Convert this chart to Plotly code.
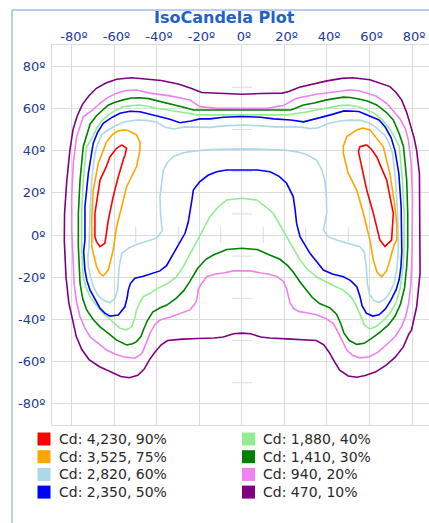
import plotly.graph_objects as go

# ---------------- data ----------------
tick_vals = [-80, -60, -40, -20, 0, 20, 40, 60, 80]
tick_text = [f"{v}º" for v in tick_vals]
minor_vals = [-70, -50, -30, -10, 10, 30, 50, 70]

candela = [4230, 3525, 2820, 2350, 1880, 1410, 940, 470]
percent = [90, 75, 60, 50, 40, 30, 20, 10]
colors = ["red", "orange", "lightblue", "blue", "lightgreen", "green", "violet", "purple"]

# isocandela lines, (horizontal deg, vertical deg)
iso_90 = [(-56.6, 42.7), (-54.3, 41.1), (-55, 38), (-55.9, 35.5), (-58.2, 27.6), (-60.6, 18.2), (-62.9, 7.1),
          (-64.5, -3.9), (-66.8, -5.5), (-68.5, -3), (-69.2, -0.8), (-69.2, 10.3), (-66.8, 26), (-64, 32),
          (-62.1, 37.1), (-59, 41.1), (-56.6, 42.7), (None, None),
          (58.7, 42.7), (55.5, 41.8), (54.8, 39.5), (56.3, 32.4), (58.7, 21.3), (61.8, 10.3), (64.9, -2.4),
          (67.3, -5.5), (70.4, -2.4), (71.2, 10.3), (68.1, 26), (65.5, 32), (63.4, 37.1), (61, 40.5), (58.7, 42.7)]

iso_75 = [(-54.3, 49.8), (-49.6, 47.4), (-48, 44), (-48, 40.3), (-49.6, 32.4), (-52, 27.5), (-54.3, 22.9),
          (-56.6, 13.4), (-59, 3.9), (-60.6, -7.1), (-62, -13), (-62.9, -16.6), (-65.3, -19.4), (-67, -18),
          (-68.4, -15), (-70, -9), (-70.7, -5.5), (-70.7, 7.1), (-70, 21.3), (-67.6, 34), (-63.7, 44.2),
          (-61, 47.5), (-58.2, 49.4), (-54.3, 49.8), (None, None),
          (54, 49.8), (49.3, 46.6), (47.7, 42), (47.7, 38.7), (50, 29.2), (54, 21.3), (57.1, 10.3), (60.2, -2.4),
          (61.8, -11.8), (63.5, -17.5), (65.7, -19.8), (68, -17), (69.6, -11.8), (71.5, -5), (72.8, -2.4),
          (72.8, 5), (72, 13.4), (69.6, 29.2), (66.5, 41.8), (63, 46.5), (60.2, 49.8), (57, 50.7), (54, 49.8)]

iso_60 = [(0, 52.1), (-8.8, 51.7), (-15, 51), (-21.3, 51), (-27, 51.2), (-32, 50.2), (-36, 51), (-40.2, 53.5),
          (-45, 54.3), (-49.6, 54.5), (-55.5, 53.5), (-60, 51.5), (-63.5, 49.5), (-66, 47.5), (-68, 43),
          (-69.2, 38.7), (-70.7, 26), (-71.5, 10.3), (-72, -5.5), (-72.5, -10), (-72.3, -15), (-71.2, -20),
          (-70, -24.5), (-67.8, -28.5), (-65.3, -30.8), (-62.1, -32.1), (-59.8, -30), (-58.5, -26),
          (-58.2, -22.9), (-57.8, -15), (-56.6, -8.7), (-53, -6), (-49.6, -4.5), (-45, -3), (-40.2, -1.5),
          (-37.5, 2), (-38.3, 10), (-38.6, 18.2), (-37.8, 26), (-37, 30.8), (-35, 34.5), (-32.3, 37.1),
          (-28, 38.8), (-24.5, 39.5), (-15, 40.5), (-5.6, 40.8), (0, 40.8), (10, 40.6), (20, 40.2),
          (25.7, 39.5), (30.5, 38), (35.1, 35.5), (37.5, 31), (39, 26), (39.7, 18), (39.9, 10.3), (39, 5),
          (38.3, 2.4), (40.5, -0.8), (44.6, -2.4), (50, -4), (55.5, -5.5), (57.5, -8), (58.5, -15),
          (59, -22.9), (60, -28), (62, -31), (64.5, -32), (67, -30.5), (69.5, -27.5), (71.5, -23),
          (72.7, -17), (73.4, -10), (73.6, -2), (73.2, 10.3), (72.3, 26), (70.8, 38.7), (69, 44), (67, 47.5),
          (63, 51), (60, 53), (56, 54.3), (51, 54.4), (46, 54), (40.5, 52.8), (36, 50.8), (32, 50.4),
          (28, 51.1), (21.3, 51.2), (15, 51.2), (8.8, 51.7), (0, 52.1)]

iso_50 = [(0, 56.1), (-8.8, 55.8), (-15, 55), (-19.8, 55), (-24, 54), (-29.2, 53.2), (-33.9, 54.8),
          (-38.6, 56.1), (-42, 57), (-48, 58.4), (-52.7, 58.6), (-57.4, 57.7), (-61, 55.8), (-65.3, 52.9),
          (-68, 48.5), (-70, 43.5), (-72.3, 29.2), (-73.9, 13.4), (-73.9, -2.4), (-74.5, -8), (-73.9, -16.6),
          (-73, -21.5), (-71.5, -26.1), (-69, -30.8), (-66.8, -34.7), (-64.5, -37), (-62.1, -38.4),
          (-58.2, -37.9), (-56.5, -36), (-55.1, -34), (-54, -29.5), (-53.5, -26.1), (-52.5, -23),
          (-50.4, -20.5), (-46.4, -19.5), (-42, -18.2), (-38.6, -17), (-35.5, -14.5), (-32.3, -8.7),
          (-29.5, -3.5), (-26.8, 0.8), (-25.3, 6), (-24.5, 10.3), (-23.5, 17), (-22.9, 21.3), (-19.8, 25.3),
          (-16, 28.3), (-11.9, 30), (-7.2, 30.8), (0, 30.8), (7.2, 30.8), (13.2, 30), (17.5, 27.8),
          (21, 24.5), (24.1, 18.2), (25, 12), (25.7, 5.5), (27.3, -0.8), (29.5, -4.5), (32, -8.7),
          (35.5, -13), (38.3, -16.6), (42.5, -18.5), (47.7, -19.8), (51, -21.5), (54, -24.5), (55.5, -29),
          (56.5, -33.5), (58.5, -37), (61.5, -38.4), (64.5, -37.8), (67.5, -35), (70, -31), (72.5, -26),
          (74, -21), (74.8, -15), (75.2, -8), (75.2, -2.4), (74.9, 13.4), (73.8, 29.2), (72, 40),
          (70.2, 46), (67.5, 51), (64.5, 54.5), (59, 57), (55, 58.5), (52.7, 58.6), (48, 58.8), (41.7, 56.9),
          (36, 55.3), (33.9, 55), (29, 53.6), (22.9, 54.5), (15, 55), (8.8, 55.8), (0, 56.1)]

iso_40 = [(0, 56.9), (-21.3, 56.9), (-26, 57.8), (-30.7, 58.4), (-35.5, 59.3), (-40.2, 60), (-44.5, 61),
          (-48.8, 61.6), (-52.5, 61.3), (-55.9, 60.8), (-59.5, 59), (-62.9, 56.9), (-66, 54), (-68.4, 50.5),
          (-70.5, 46), (-73.1, 41.8), (-74.7, 26), (-75.4, 10.3), (-75.4, -7.1), (-74.7, -19.8), (-73.3, -25),
          (-71.5, -29.2), (-68.5, -33.3), (-65.3, -37.1), (-61.5, -40.5), (-57.4, -44.2), (-54.3, -45),
          (-51.9, -43.5), (-50.5, -39.5), (-49.6, -35.5), (-47.8, -31.5), (-46.4, -29.2), (-43, -27.5),
          (-40.2, -25.5), (-35, -23), (-31, -20), (-27.6, -15), (-24.5, -9), (-21.3, -3), (-18, 3),
          (-15.1, 8.7), (-11, 13.5), (-7.2, 16.6), (0, 17.4), (6.9, 16.6), (11, 13.5), (14.7, 10.3),
          (18, 4.5), (21, -0.8), (24, -6), (27.3, -11.8), (30.5, -16), (35.1, -19.8), (41, -23),
          (47.7, -26.1), (51.5, -29.5), (53.5, -33), (55.5, -37.5), (57.5, -42.5), (60, -44.5), (63, -43.5),
          (66.5, -40.5), (70, -36.5), (72.5, -32), (74.5, -25), (75.8, -15), (76.3, -5.5), (76.3, 10.3),
          (75.5, 26), (74, 41.8), (71.5, 47), (69, 51), (66, 54.5), (62.5, 57.5), (58, 59.6), (54, 61),
          (50, 61.5), (46, 61.3), (41, 60.3), (35, 59), (29, 58), (24, 57.3), (21.3, 56.9), (0, 56.9)]

iso_30 = [(0, 59.2), (-11, 59.2), (-22.9, 59.2), (-27.5, 60.5), (-32.3, 61.6), (-38.6, 63.2), (-44, 64.6),
          (-48, 65), (-52, 64.9), (-55.9, 64), (-60, 62.8), (-63, 61.5), (-65.3, 59.5), (-68.5, 56.5),
          (-71.5, 52.5), (-73.5, 46), (-74.7, 41.8), (-76.2, 26), (-77, 10.3), (-77, -5.5), (-76.6, -15),
          (-76.2, -22.9), (-75, -30), (-73.1, -35.5), (-70, -40), (-66.8, -43.5), (-63, -46.5), (-59, -49.8),
          (-54.3, -52.1), (-51.5, -51.5), (-49.6, -50.5), (-47.5, -48), (-46.4, -45), (-44.5, -40.5),
          (-42, -36.5), (-38.5, -34.5), (-35.4, -33.2), (-31, -30), (-27.5, -26.5), (-24.5, -22), (-21, -16),
          (-17, -11.5), (-13.5, -9.5), (-7.2, -6.9), (0, -6.3), (7.2, -6.9), (13, -9.5), (17.9, -11.5),
          (21.5, -14.5), (24.1, -17.5), (27.5, -22.5), (30.4, -26.1), (33, -29.5), (36.5, -32.5),
          (41.4, -34.5), (44.5, -37.5), (46.5, -42), (48, -46.5), (50.5, -50), (54, -51.8), (57.5, -51.3),
          (61, -49), (65, -46), (69, -42.5), (72, -38.5), (74.5, -33), (76.5, -25), (77.5, -15), (78, -5.5),
          (78, 10.3), (77.5, 26), (76, 41.8), (74, 48), (71.2, 54.5), (68, 58), (63.4, 61.6), (59, 63.5),
          (55.5, 64.3), (51, 65.1), (47.7, 65.3), (43, 64.5), (39.8, 64), (34, 62.5), (28.9, 61.6),
          (24.5, 59.8), (22.9, 59.2), (11, 59.2), (0, 59.2)]

iso_20 = [(0, 60), (-11.9, 60), (-19.8, 60.8), (-24.5, 64), (-33.9, 65.9), (-43.3, 67.2), (-49.6, 68.7),
          (-55, 68.3), (-59, 67.2), (-63, 65.2), (-66.8, 62.4), (-70.5, 59), (-74.7, 56), (-76.5, 50.5),
          (-77.8, 46.6), (-79.4, 34), (-80.1, 18.2), (-80.1, 2.4), (-79.5, -9), (-79, -22.9), (-77.8, -32),
          (-76.2, -38.7), (-74, -44), (-71.5, -48.2), (-67.5, -51.5), (-63.7, -54.5), (-59.5, -56.5),
          (-55.9, -57.7), (-50.4, -58.4), (-47.5, -56.5), (-46.4, -54.5), (-44.5, -50), (-43.3, -46.6),
          (-41, -42.5), (-38.6, -40.3), (-34, -39), (-30.7, -37.9), (-26.5, -36.5), (-24.5, -35.5),
          (-22, -32.5), (-21.3, -30.8), (-20.5, -25.5), (-19, -23), (-16.6, -19.8), (-12.5, -18.5),
          (-8.8, -18), (-4, -17), (0, -16.9), (4, -17), (8.8, -18), (12.5, -18.5), (16.6, -19.8), (19.5, -22),
          (21, -25.5), (22.6, -32), (24.5, -35), (27, -36.3), (30.4, -36.8), (35, -37.8), (39.5, -39.5),
          (43, -42), (45.5, -46.6), (47.5, -51), (49.3, -54.5), (52, -57), (55.5, -58.2), (60, -57.7),
          (64, -55.5), (68, -52), (72, -48.2), (75, -43.5), (77, -38.7), (78.5, -32), (79.5, -22.9), (80, -9),
          (80.2, 2.4), (80.2, 18.2), (79.6, 34), (78.3, 45), (76.8, 50.5), (74.4, 55), (71, 59), (68.1, 62.4),
          (63, 65.8), (58.7, 67.2), (55, 68.3), (50.8, 68.7), (44.6, 67.9), (35.1, 66.7), (25.7, 64.8),
          (22, 62.8), (19.4, 61.3), (11.9, 60), (0, 60)]

iso_10 = [(0, 66.7), (-9, 67), (-19, 67.5), (-24, 69.5), (-30, 71.5), (-38, 73.2), (-45, 74), (-52, 74.5),
          (-59, 73.8), (-64, 72), (-68.5, 69.5), (-72, 66), (-75, 62), (-77.5, 56.5), (-79.5, 50), (-81, 40),
          (-82.5, 25), (-83.5, 10), (-83.6, -3), (-82.8, -20), (-81.5, -32), (-80.1, -39), (-78, -48),
          (-75.5, -54), (-72, -59), (-67, -62.4), (-62, -64.8), (-57, -67), (-53, -67.6), (-49, -66.5),
          (-46, -63.5), (-43.5, -59), (-41, -55.5), (-38, -52), (-35, -50), (-28, -49.3), (-21, -49),
          (-13, -48.8), (-8.8, -48.3), (-4, -46.8), (0, -46.5), (4, -46.8), (8.8, -48.3), (13, -48.8),
          (21, -49.2), (28, -49.5), (35, -50), (38.5, -52), (41, -55.5), (43.5, -60), (46, -64), (50, -66.8),
          (54, -67.4), (58, -66.6), (63, -64.8), (68, -61.5), (72, -58), (75.9, -53), (78.5, -47),
          (79.8, -45), (82.2, -34), (83.8, -18), (83.8, -2.4), (83.8, 10), (83.5, 29), (82.2, 40), (81, 46),
          (79, 53), (77.5, 58), (75.1, 64), (72.5, 67.5), (69.6, 70.3), (64.5, 72.2), (60.2, 73.5),
          (52, 74.5), (47, 74.2), (40, 73), (33, 71.5), (27, 70), (22, 68), (19, 67.2), (9, 67), (0, 66.7)]

iso_lines = [iso_90, iso_75, iso_60, iso_50, iso_40, iso_30, iso_20, iso_10]

# ---------------- layout constants ----------------
W, H = 429, 523
L, R, T, B = 52, 429, 45, 425          # plot area in pixels
GRID = "#dcdcdc"
TICK_COLOR = "#24399c"
FONT = "DejaVu Sans"


def px_x(px):
    return (px - L) / (R - L)


def px_y(py):
    return (B - py) / (B - T)


fig = go.Figure()

# draw outer contours first
for pts, col, cd, pc in reversed(list(zip(iso_lines, colors, candela, percent))):
    fig.add_trace(go.Scatter(
        x=[p[0] for p in pts], y=[p[1] for p in pts],
        mode="lines", line=dict(color=col, width=1.6),
        name=f"Cd: {cd:,}, {pc}%", showlegend=False, hoverinfo="skip",
        connectgaps=False,
    ))

shapes = []
# minor tick crosshair on the centre axes
for v in minor_vals:
    shapes.append(dict(type="line", xref="x", yref="y", xsizemode="pixel", xanchor=0,
                       x0=-10, x1=10, y0=v, y1=v, line=dict(color=GRID, width=1), layer="below"))
    shapes.append(dict(type="line", xref="x", yref="y", ysizemode="pixel", yanchor=0,
                       y0=-8, y1=8, x0=v, x1=v, line=dict(color=GRID, width=1), layer="below"))

# panel frame (light blue)
shapes.append(dict(type="line", xref="paper", yref="paper", x0=px_x(12), x1=px_x(12),
                   y0=px_y(10), y1=px_y(540), line=dict(color="#a3bbf0", width=1.5)))
shapes.append(dict(type="line", xref="paper", yref="paper", x0=px_x(12), x1=px_x(440),
                   y0=px_y(10), y1=px_y(10), line=dict(color="#a3bbf0", width=1.5)))

# legend (two columns, colour squares + labels)
annotations = []
for i, (col, cd, pc) in enumerate(zip(colors, candela, percent)):
    c, r = divmod(i, 4)
    cx = 44 + c * 204.5
    cy = 439 + r * 17.7
    shapes.append(dict(type="rect", xref="paper", yref="paper",
                       x0=px_x(cx - 6.5), x1=px_x(cx + 6.5), y0=px_y(cy + 6.5), y1=px_y(cy - 6.5),
                       fillcolor=col, line=dict(width=0)))
    annotations.append(dict(xref="paper", yref="paper", x=px_x(cx + 12.5), y=px_y(cy),
                            xanchor="left", yanchor="middle", showarrow=False,
                            text=f"Cd: {cd:,}, {pc}%",
                            font=dict(family=FONT, size=14, color="#2a2a2a")))

# title as an annotation so it sits exactly
annotations.append(dict(xref="paper", yref="paper", x=px_x(224), y=px_y(18),
                        xanchor="center", yanchor="middle", showarrow=False,
                        text="<b>IsoCandela Plot</b>",
                        font=dict(family=FONT, size=16, color="#1f62c8")))

fig.update_layout(
    width=W, height=H, autosize=False,
    margin=dict(l=L, r=W - R, t=T, b=H - B, pad=0),
    paper_bgcolor="white", plot_bgcolor="white",
    showlegend=False,
    xaxis=dict(range=[-89.4, 88.0], side="top", tickmode="array", tickvals=tick_vals, ticktext=tick_text,
               showgrid=True, gridcolor=GRID, gridwidth=1, zeroline=True, zerolinecolor=GRID, zerolinewidth=1,
               showline=True, linecolor=GRID, linewidth=1, mirror=True, ticks="", automargin=False,
               tickfont=dict(family=FONT, size=13, color=TICK_COLOR), ticklabelshift=2,
               ticklabelstandoff=-2, fixedrange=True),
    yaxis=dict(range=[-90, 90], tickmode="array", tickvals=tick_vals, ticktext=tick_text,
               showgrid=True, gridcolor=GRID, gridwidth=1, zeroline=True, zerolinecolor=GRID, zerolinewidth=1,
               showline=True, linecolor=GRID, linewidth=1, mirror=False, ticks="", automargin=False,
               tickfont=dict(family=FONT, size=13, color=TICK_COLOR), ticklabelstandoff=3, fixedrange=True),
    shapes=shapes,
    annotations=annotations,
)

# remove the browser's default 8px page margin so the figure sits at the window's corner
fig.write_html("out.html", config={"displayModeBar": False},
               post_script="document.body.style.margin='0px';document.body.style.overflow='hidden';")
